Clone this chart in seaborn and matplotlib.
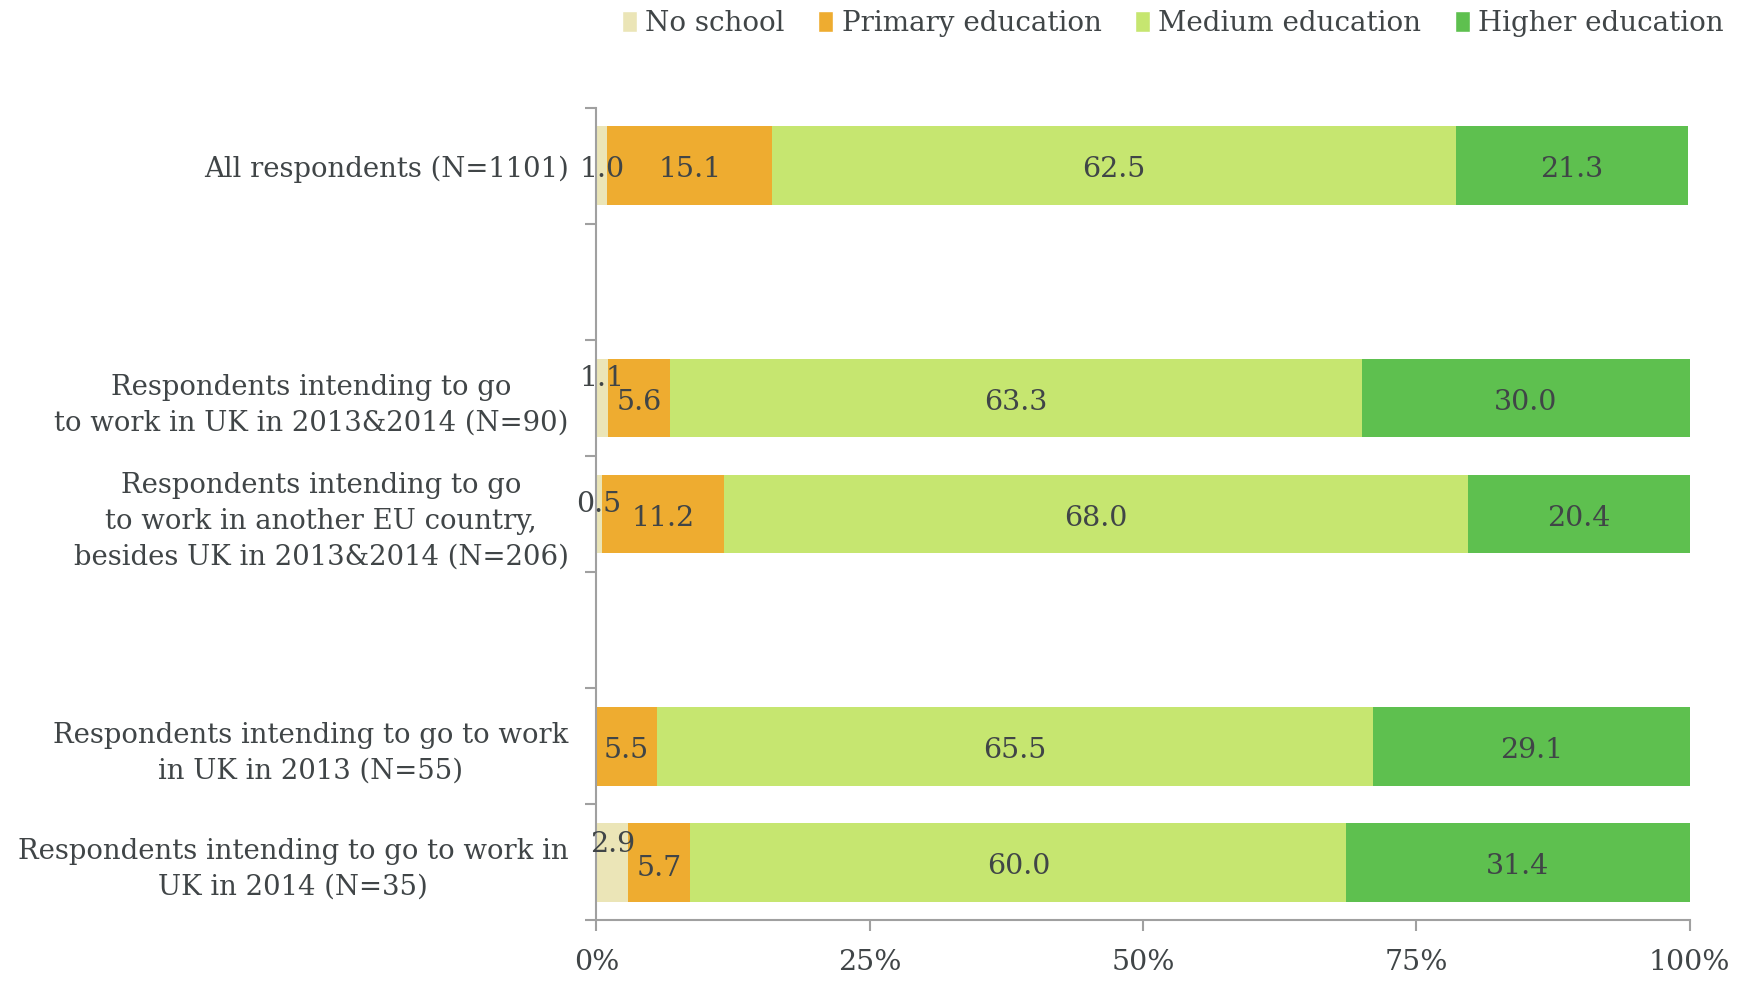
import numpy as np
import pandas as pd
import matplotlib
matplotlib.use('Agg')
import matplotlib.pyplot as plt
import seaborn as sns
from matplotlib.patches import Patch

# Data
groups = ['All respondents (N=1101)',
          'Respondents intending to go\nto work in UK in 2013&2014 (N=90)',
          'Respondents intending to go\nto work in another EU country,\nbesides UK in 2013&2014 (N=206)',
          'Respondents intending to go to work\nin UK in 2013 (N=55)',
          'Respondents intending to go to work in\nUK in 2014 (N=35)']
levels = ['No school', 'Primary education', 'Medium education', 'Higher education']
no_school = [1.0, 1.1, 0.5, 0.0, 2.9]
primary = [15.1, 5.6, 11.2, 5.5, 5.7]
medium = [62.5, 63.3, 68.0, 65.5, 60.0]
higher = [21.3, 30.0, 20.4, 29.1, 31.4]
colors = ['#ebe5b7', '#eeac30', '#c6e670', '#5ec04f']

# empty slots between the groups
order = [groups[0], ' ', groups[1], groups[2], '  ', groups[3], groups[4]]

df = pd.DataFrame({'group': groups, levels[0]: no_school, levels[1]: primary,
                   levels[2]: medium, levels[3]: higher})
cum = df[levels].cumsum(axis=1)
cum['group'] = df['group']

sns.set_style('white')
plt.rcParams['font.family'] = ['DejaVu Serif']
txt = '#404547'
grey = '#a0a0a0'

fig, ax = plt.subplots(figsize=(17.49, 9.81), dpi=100)
fig.subplots_adjust(left=0.341, right=0.966, top=0.890, bottom=0.062)

# stacked bars: draw cumulative totals, largest first
for lvl, col in reversed(list(zip(levels, colors))):
    sns.barplot(data=cum, x=lvl, y='group', order=order, color=col, saturation=1,
                width=0.68, orient='h', errorbar=None, linewidth=0, ax=ax)

# value labels (small nudges where segments are narrow)
nudge = {(1, 0): -0.2, (2, 0): -0.12, (4, 0): -0.19, (4, 1): 0.02}
for i, g in enumerate(groups):
    pos = order.index(g)
    for j, lvl in enumerate(levels):
        v = df.loc[i, lvl]
        if v <= 0:
            continue
        c = cum.loc[i, lvl] - v / 2
        ax.text(c, pos + 0.035 + nudge.get((i, j), 0), f'{v:.1f}', ha='center', va='center',
                fontsize=20.5, color=txt)

ax.set_xlim(0, 100)
ax.set_ylim(6.5, -0.5)
ax.set_xticks([0, 25, 50, 75, 100])
ax.set_xticklabels(['0%', '25%', '50%', '75%', '100%'])
ax.set_yticks(range(len(order)))
ax.set_yticklabels(order)
for lab in ax.get_yticklabels():
    lab.set_multialignment('center')
    lab.set_linespacing(1.4)
ax.set_yticks(np.arange(-0.5, len(order), 1), minor=True)
ax.set_xlabel('')
ax.set_ylabel('')

ax.tick_params(axis='y', which='major', length=0, pad=20, labelsize=19.8, labelcolor=txt)
ax.tick_params(axis='y', which='minor', length=8, width=1.5, color=grey, direction='out', left=True)
ax.tick_params(axis='x', which='major', length=8, width=1.5, color=grey, direction='out',
               bottom=True, pad=13, labelsize=20.5, labelcolor=txt)

for s in ['top', 'right']:
    ax.spines[s].set_visible(False)
for s in ['left', 'bottom']:
    ax.spines[s].set_color(grey)
    ax.spines[s].set_linewidth(1.5)

handles = [Patch(facecolor=c, label=l) for l, c in zip(levels, colors)]
fig.legend(handles=handles, loc='upper right', bbox_to_anchor=(1.0, 1.015), ncol=4,
           frameon=False, fontsize=20, handlelength=0.55, handleheight=0.75,
           handletextpad=0.3, columnspacing=1.2, labelcolor=txt)

plt.savefig('out.png', dpi=100)
